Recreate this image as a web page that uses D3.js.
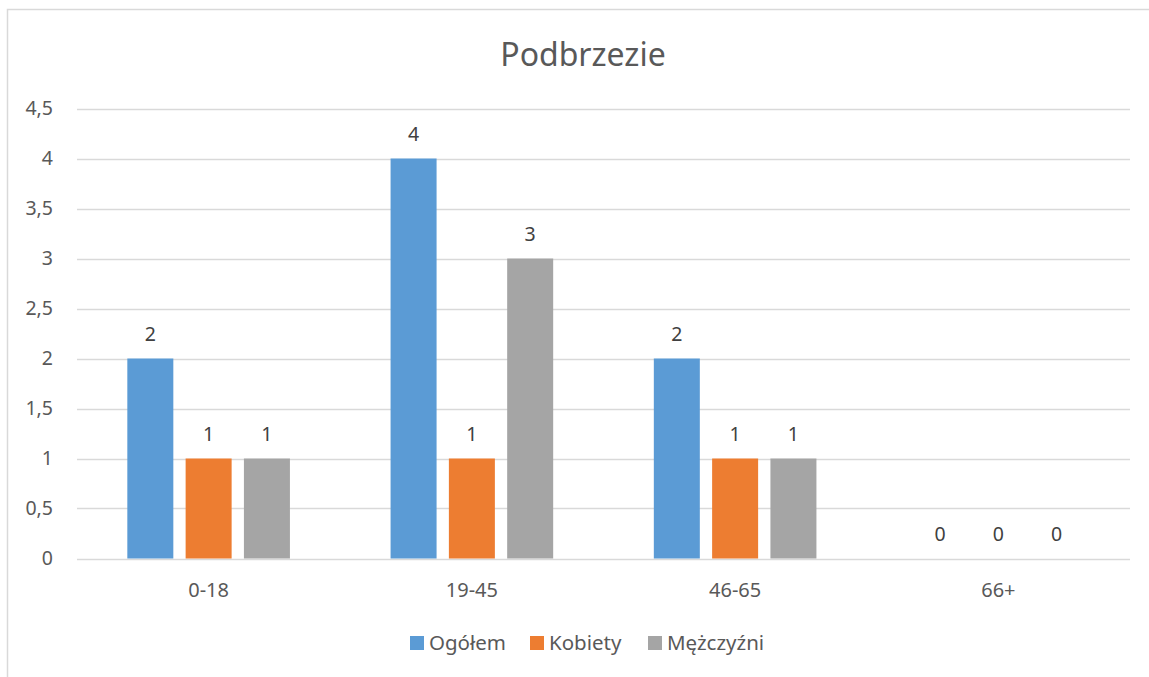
<!DOCTYPE html>
<html><head><meta charset="utf-8">
<script src="https://cdn.jsdelivr.net/npm/d3@7"></script>
<style>body{margin:0;background:#fff;} text{font-family:"Noto Sans","Open Sans",sans-serif;}</style>
</head><body>
<svg id="c" width="1149" height="677"></svg>
<script>
const title = "Podbrzezie";
const categories = ["0-18", "19-45", "46-65", "66+"];
const seriesNames = ["Ogółem", "Kobiety", "Mężczyźni"];
const ogolem = [2, 4, 2, 0];
const kobiety = [1, 1, 1, 0];
const mezczyzni = [1, 3, 1, 0];
const yTicks = [0, 0.5, 1, 1.5, 2, 2.5, 3, 3.5, 4, 4.5];
const colors = ["#5B9BD5", "#ED7D31", "#A5A5A5"];

const series = [ogolem, kobiety, mezczyzni];
const svg = d3.select("#c");
const W = 1149, H = 677;
const pLeft = 77, pRight = 1130, pTop = 108.5, pBottom = 558.5;
const txt = "#595959";

svg.append("rect").attr("x", 7.5).attr("y", 9.5).attr("width", W + 10).attr("height", H + 10)
  .attr("fill", "#fff").attr("stroke", "#d9d9d9").attr("stroke-width", 1.5);

const y = d3.scaleLinear().domain([0, 4.5]).range([pBottom, pTop]);
const x0 = d3.scaleBand().domain(categories).range([pLeft, pRight]).padding(0);
const bw = 46, step = 58.3;

// gridlines
svg.append("g").selectAll("line").data(yTicks).join("line")
  .attr("x1", pLeft).attr("x2", pRight)
  .attr("y1", d => Math.round(y(d)) + 0.5).attr("y2", d => Math.round(y(d)) + 0.5)
  .attr("stroke", "#d9d9d9").attr("stroke-width", 1.3);

// y axis labels
const fmt = d => String(d).replace(".", ",");
svg.append("g").selectAll("text").data(yTicks).join("text")
  .attr("x", 53).attr("y", d => y(d)).attr("dy", "0.35em")
  .attr("text-anchor", "end").attr("fill", txt).attr("font-size", 19.5)
  .text(fmt);

// bars
categories.forEach((c, i) => {
  const cx = x0(c) + x0.bandwidth() / 2;
  series.forEach((s, j) => {
    const bx = cx + (j - 1) * step - bw / 2;
    const v = s[i];
    if (v > 0) {
      svg.append("rect").attr("x", bx).attr("y", y(v)).attr("width", bw)
        .attr("height", y(0) - y(v)).attr("fill", colors[j]);
    }
    svg.append("text").attr("x", bx + bw / 2).attr("y", y(v) - 24.5).attr("dy", "0.35em")
      .attr("text-anchor", "middle").attr("fill", "#404040").attr("font-size", 19.5).text(v);
  });
  svg.append("text").attr("x", cx).attr("y", 590).attr("dy", "0.35em")
    .attr("text-anchor", "middle").attr("fill", txt).attr("font-size", 20).text(c);
});

// title
svg.append("text").attr("x", 583).attr("y", 55).attr("dy", "0.35em")
  .attr("text-anchor", "middle").attr("fill", txt).attr("font-size", 32).text(title);

// legend
const legX = [410, 530, 648];
seriesNames.forEach((n, j) => {
  svg.append("rect").attr("x", legX[j]).attr("y", 636).attr("width", 14).attr("height", 14).attr("fill", colors[j]);
  svg.append("text").attr("x", legX[j] + 19).attr("y", 643).attr("dy", "0.35em")
    .attr("fill", txt).attr("font-size", 20.5).text(n);
});
</script>
</body></html>
